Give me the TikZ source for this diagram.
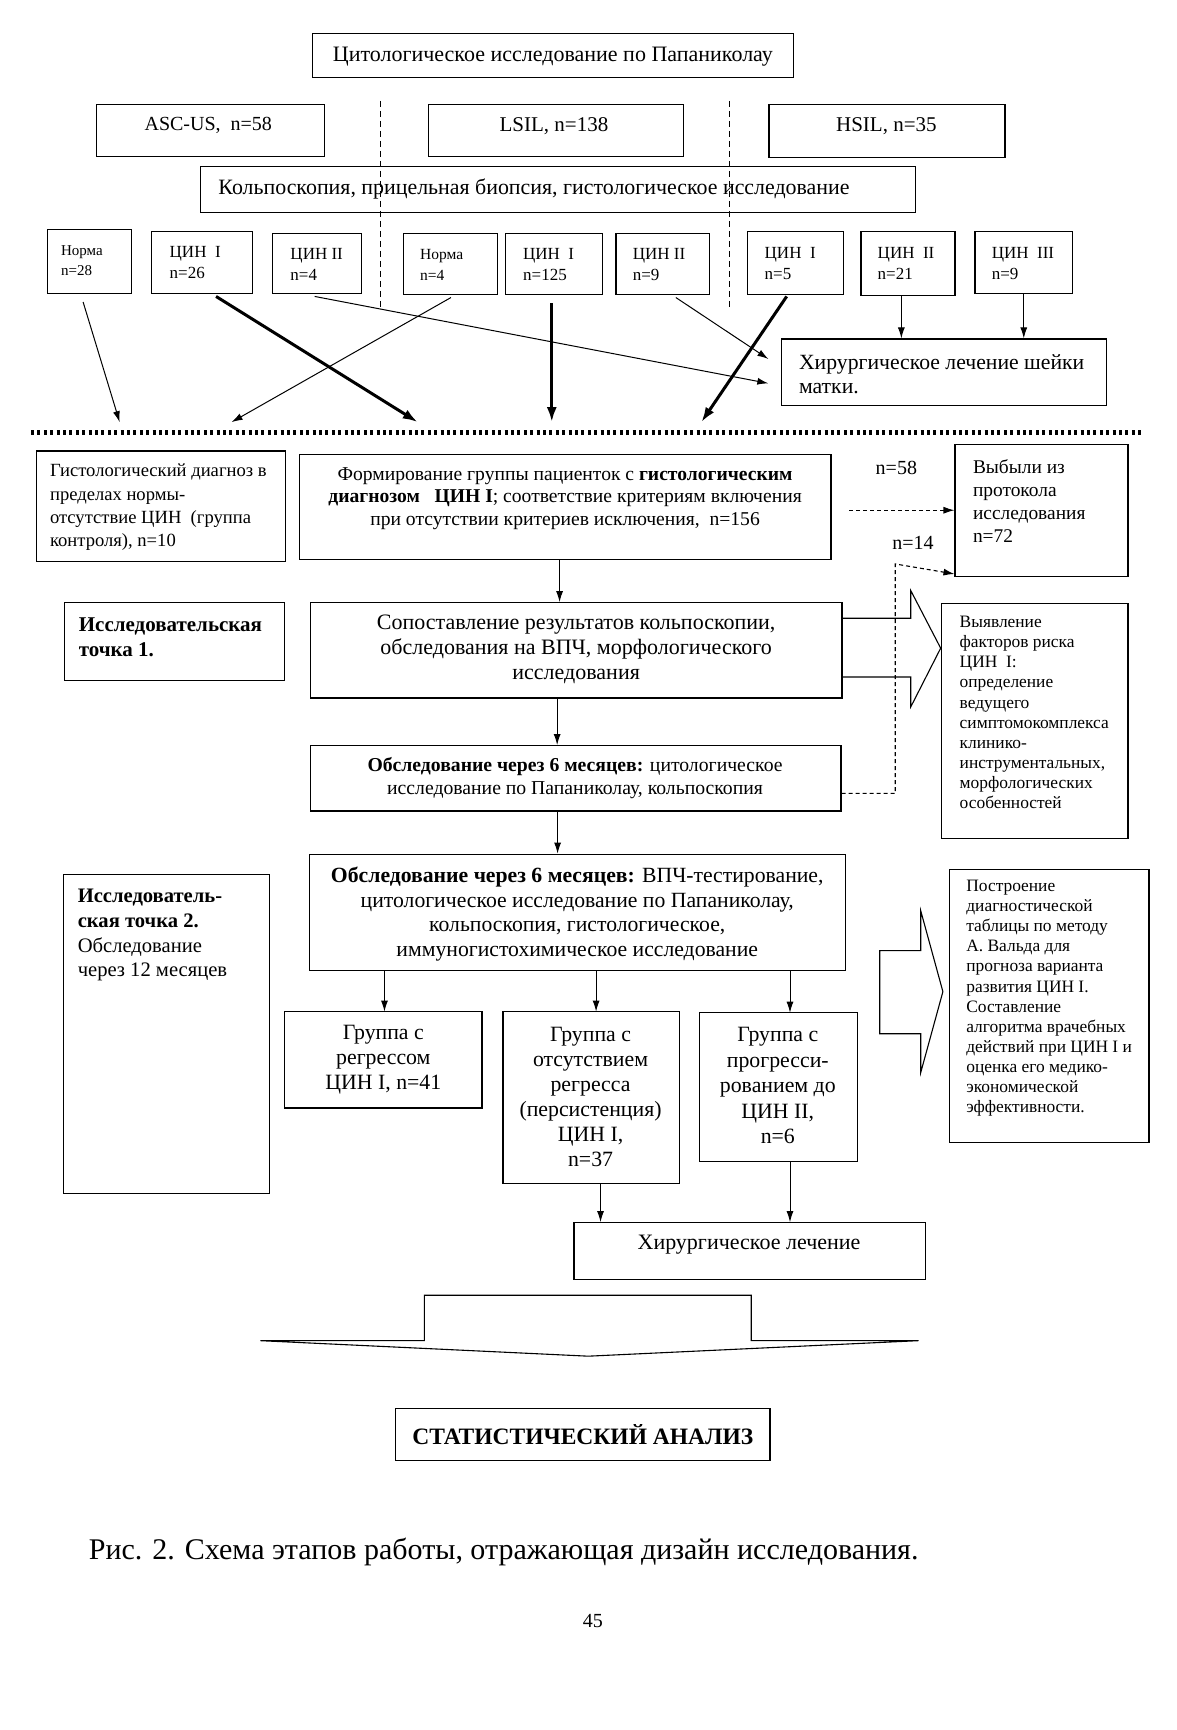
\documentclass[tikz,border=0pt]{standalone}
\usepackage{fontspec}
\setmainfont{Liberation Serif}
\usetikzlibrary{arrows.meta}
\newcommand\BX[5]{\node[box,minimum width={(#4-#2)*1.108pt},minimum height={(#5-#3)*1.108pt}] (#1) at ({(#2+#4)/2},{(#3+#5)/2}) {};}
\newcommand\fs[2]{\fontsize{#1}{#2}\selectfont}
\begin{document}
\begin{tikzpicture}[x=1.108pt,y=-1.108pt,
  box/.style={draw,line width=1.2pt,inner sep=0pt},
  txt/.style={inner sep=0pt},
  arr/.style={-{Latex[length=11pt,width=7pt]},line width=1pt},
  thk/.style={-{Latex[length=15pt,width=10pt]},line width=3pt},
  dsh/.style={-{Latex[length=11pt,width=7pt]},line width=1.1pt,dash pattern=on 4pt off 3pt}]
\useasboundingbox (0,0) rectangle (1061.4,1561.4);
% top
\BX{title}{282}{30}{716}{70}
\node[txt,font=\fs{22}{26}] (ttitle) at (499,51) {Цитологическое исследование по Папаниколау};
\BX{asc}{87}{94}{293}{141}
\node[txt,font=\fs{20}{24}] (tasc) at (188,113) {ASC-US,\ \ n=58};
\BX{lsil}{387}{94}{617}{141}
\node[txt,font=\fs{21}{24}] (tlsil) at (500,114) {LSIL, n=138};
\BX{hsil}{694}{94}{907}{142}
\node[txt,font=\fs{21}{24}] (thsil) at (800,114) {HSIL, n=35};
\BX{colp}{181}{150}{826}{192}
\node[txt,font=\fs{21.9}{24},anchor=west] (tcolp) at (197,171) {Кольпоскопия, прицельная биопсия, гистологическое исследование};
\draw[line width=0.9pt,dash pattern=on 6pt off 4pt] (343,91) -- (343,278) (658,91) -- (658,278);
% small boxes
\BX{n28}{43}{207}{119}{265}
\BX{c26}{137}{209}{228}{265}
\BX{c4}{246}{211}{326}{265}
\BX{n4}{364}{211}{449}{266}
\BX{c125}{456}{211}{544}{266}
\BX{c9}{556}{211}{640}{266}
\BX{c5}{675}{209}{761}{266}
\BX{c21}{777}{209}{862}{267}
\BX{c39}{880}{209}{968}{265}
\node[txt,font=\fs{15}{20},anchor=west,align=left] (tn28) at (55,235) {Норма\\n=28};
\node[txt,font=\fs{17}{21},anchor=west,align=left] (tc26) at (153,236.5) {ЦИН\ \ I\\n=26};
\node[txt,font=\fs{17}{21},anchor=west,align=left] (tc4) at (262,239) {ЦИН II\\n=4};
\node[txt,font=\fs{15.5}{21},anchor=west,align=left] (tn4) at (379,239) {Норма\\n=4};
\node[txt,font=\fs{17}{21},anchor=west,align=left] (tc125) at (472,238.5) {ЦИН\ \ I\\n=125};
\node[txt,font=\fs{17}{21},anchor=west,align=left] (tc9) at (571,238.5) {ЦИН II\\n=9};
\node[txt,font=\fs{17}{21},anchor=west,align=left] (tc5) at (690,237.5) {ЦИН\ \ I\\n=5};
\node[txt,font=\fs{17}{21},anchor=west,align=left] (tc21) at (792,237.5) {ЦИН\ \ II\\n=21};
\node[txt,font=\fs{17}{21},anchor=west,align=left] (tc39) at (895,237.5) {ЦИН\ \ III\\n=9};
\BX{surg}{705}{306}{999}{366}
\node[txt,font=\fs{21.7}{24.4},anchor=west,align=left] (tsurg) at (721,338) {Хирургическое лечение шейки\\матки.};
\coordinate (e1) at (108,381);
\coordinate (e2) at (377,381);
\coordinate (e3) at (209,381);
\coordinate (e4) at (498,381);
\coordinate (e5) at (633,381);
\draw[arr] ([shift={(-6,7)}]n28.south) -- (e1);
\draw[thk] ([shift={(12.5,2)}]c26.south) -- (e2);
\draw[arr] ([shift={(-2,2)}]c4.south) -- ([shift={(-11,10)}]surg.west);
\draw[arr] ([shift={(0.5,2)}]n4.south) -- (e3);
\draw[thk] ([shift={(-2,7)}]c125.south) -- (e4);
\draw[arr] ([shift={(12,2)}]c9.south) -- ([shift={(-11,-12)}]surg.west);
\draw[thk] ([shift={(-8,1)}]c5.south) -- (e5);
\draw[arr] ([shift={(-6,0)}]c21.south) -- ([shift={(-6,0)}]c21.south |- surg.north);
\draw[arr] (c39.south) -- (c39.south |- surg.north);
% dotted separator
\draw[line width=5pt,dash pattern=on 3pt off 3.4pt] (28,390) -- (1032,390);
% middle section
\BX{hist}{33}{407}{258}{507}
\node[txt,font=\fs{18.6}{23.3},anchor=west,align=left] (thist) at (45,458) {Гистологический диагноз в\\пределах нормы-\\отсутствие ЦИН\ \ (группа\\контроля), n=10};
\BX{form}{270}{410}{750}{505}
\node[txt,font=\fs{19.6}{22.7},align=center] (tform) at (510,450) {Формирование группы пациенток с \textbf{гистологическим}\\\textbf{диагнозом\ \ \ ЦИН\ I}; соответствие критериям включения\\при отсутствии критериев исключения,\ \ n=156};
\BX{out}{862}{401}{1018}{520}
\node[txt,font=\fs{19.4}{22.9},anchor=west,align=left] (tout) at (878,452) {Выбыли из\\протокола\\исследования\\n=72};
\node[txt,font=\fs{20}{22}] (l58) at (809,422) {n=58};
\node[txt,font=\fs{20}{22}] (l14) at (824,490) {n=14};
\BX{pt1}{58}{544}{257}{614}
\node[txt,font=\bfseries\fs{21}{25.5},anchor=west,align=left] (tpt1) at (71,575) {Исследовательская\\точка 1.};
\BX{comp}{280}{544}{760}{630}
\node[txt,font=\fs{22}{25},align=center] (tcomp) at (520,586) {Сопоставление результатов кольпоскопии,\\обследования на ВПЧ, морфологического\\исследования};
\draw[line width=1.1pt] (760,558) -- (822,558) -- (822,533) -- (849,585) -- (822,638) -- (822,611) -- (760,611);
\BX{risk}{850}{545}{1018}{757}
\node[txt,font=\fs{17.4}{20.1},anchor=west,align=left] (trisk) at (866,643) {Выявление\\факторов риска\\ЦИН\ \ I:\\определение\\ведущего\\симптомокомплекса\\клинико-\\инструментальных,\\морфологических\\особенностей};
\BX{ex1}{280}{673}{759}{732}
\node[txt,font=\fs{19.7}{23.3},align=center] (tex1) at (519,702) {\textbf{Обследование через 6 месяцев:} цитологическое\\исследование по Папаниколау, кольпоскопия};
\draw[arr] ([xshift=-5.5pt]form.south) -- ([xshift=-5.5pt]form.south |- comp.north);
\draw[arr] ([xshift=-19pt]comp.south) -- ([xshift=-19pt]comp.south |- ex1.north);
\draw[dsh] (form.east |- out.west) ++(16,0) coordinate (d1) -- (d1 -| out.west);
\coordinate (d2) at (808,716);
\draw[dsh] (ex1.east |- d2) -- (d2) -- (808,509) -- ([yshift=-10pt]out.south west |- 0,509);
% lower section
\BX{ex2}{279}{771}{763}{876}
\node[txt,font=\fs{21.7}{24.7},align=center] (tex2) at (521,825) {\textbf{Обследование через 6 месяцев:} ВПЧ-тестирование,\\цитологическое исследование по Папаниколау,\\кольпоскопия, гистологическое,\\иммуногистохимическое исследование};
\draw[arr] ([xshift=-18pt]ex1.south) -- ([xshift=-18pt]ex1.south |- ex2.north);
\BX{pt2}{57}{789}{243}{1077}
\node[txt,font=\fs{20.6}{24.7},anchor=west,align=left] (tpt2) at (70,844) {\textbf{Исследователь-}\\\textbf{ская точка 2.}\\Обследование\\через 12 месяцев};
\BX{g1}{257}{913}{435}{1000}
\node[txt,font=\fs{21.8}{25},align=center] (tg1) at (346,956) {Группа с\\регрессом\\ЦИН I, n=41};
\BX{g2}{454}{913}{613}{1068}
\node[txt,font=\fs{21.8}{25},align=center] (tg2) at (533,990) {Группа с\\отсутствием\\регресса\\(персистенция)\\ЦИН I,\\n=37};
\BX{g3}{631}{914}{774}{1048}
\node[txt,font=\fs{21.8}{25.5},align=center] (tg3) at (702,980) {Группа с\\прогресси-\\рованием до\\ЦИН II,\\n=6};
\draw[arr] (347,876) -- (347,913);
\draw[arr] (538,876) -- (538,913);
\draw[arr] (713,876) -- (713,914);
\BX{surg2}{518}{1103}{835}{1155}
\node[txt,font=\fs{22}{24}] (tsurg2) at (676,1123) {Хирургическое лечение};
\draw[arr] (542,1068) -- (542,1103);
\draw[arr] (713,1048) -- (713,1103);
\BX{plan}{857}{785}{1037}{1031}
\node[txt,font=\fs{17.4}{20.1},anchor=west,align=left] (tplan) at (872,901) {Построение\\диагностической\\таблицы по методу\\А. Вальда для\\прогноза варианта\\развития ЦИН I.\\Составление\\алгоритма врачебных\\действий при ЦИН I и\\оценка его медико-\\экономической\\эффективности.};
\draw[line width=1.1pt] (794,858) -- (831,858) -- (831,822) -- (851,895) -- (831,968) -- (831,933) -- (794,933) -- cycle;
% big down arrow
\draw[line width=1.1pt] (383,1210) -- (383,1169) -- (678,1169) -- (678,1210) -- (829,1210) -- (531,1224) -- (235,1210) -- cycle;
\BX{stat}{357}{1271}{695}{1318}
\node[txt,font=\bfseries\fs{23.5}{26}] (tstat) at (526,1295) {СТАТИСТИЧЕСКИЙ АНАЛИЗ};
\node[txt,font=\fs{30}{32},anchor=west] (cap) at (80,1401) {Рис. 2. Схема этапов работы, отражающая дизайн исследования.};
\node[txt,font=\fs{20}{24}] (page) at (535,1463) {45};
\end{tikzpicture}
\end{document}
